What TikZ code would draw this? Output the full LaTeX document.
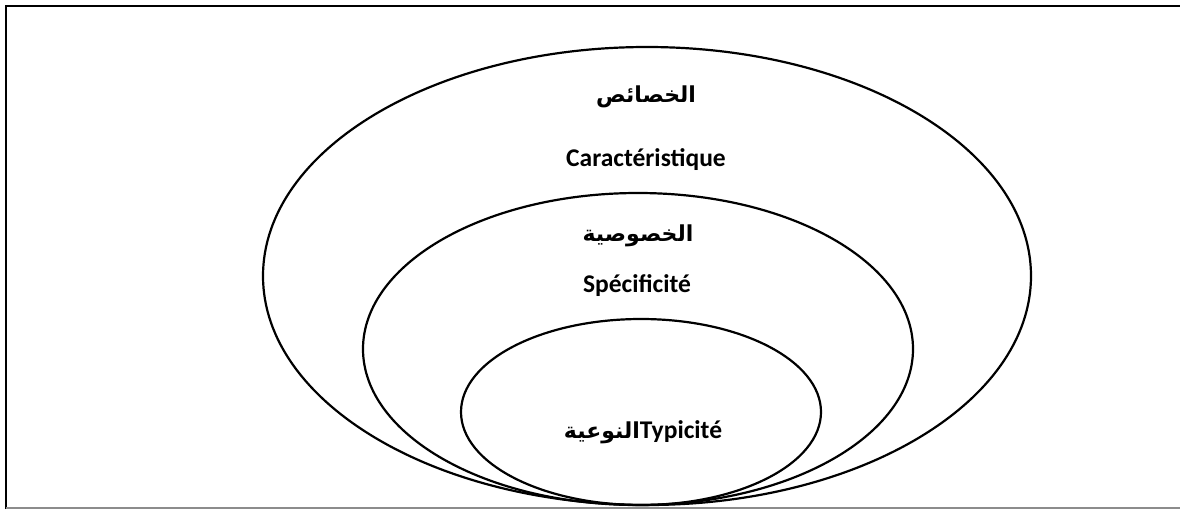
\documentclass[tikz,border=0pt]{standalone}
\usepackage{fontspec}
\setmainfont{Carlito}
\newfontfamily\arabicfont[Script=Arabic]{DejaVu Sans}
\TeXXeTstate=1
\begin{document}
\begin{tikzpicture}[x=1pt,y=-1pt,
  ring/.style={draw=black,line width=2.2pt},
  lbl/.style={font=\fontsize{25.5}{30}\selectfont\bfseries,inner sep=0pt},
  arlbl/.style={font=\arabicfont\fontsize{22}{28}\selectfont\bfseries,inner sep=0pt}]
\useasboundingbox (0,0) rectangle (1180,509);
\draw[line width=2.2pt,black] (6,509) -- (6,6) -- (1180,6);
\draw[line width=1.5pt,black!45] (6,508) -- (1180,508);
\draw[ring] (647,276) ellipse [x radius=384, y radius=229];
\draw[ring] (638,349) ellipse [x radius=275, y radius=156];
\draw[ring] (641,412) ellipse [x radius=180, y radius=93];
\node[arlbl] (a1) at (646,97) {\beginR الخصائص\endR};
\node[lbl] (l1) at (646,160) {Caractéristique};
\node[arlbl] (a2) at (638,236) {\beginR الخصوصية\endR};
\node[lbl] (l2) at (637,286) {Spécificité};
\node[lbl] (l3) at (643,432) {{\arabicfont\fontsize{22}{28}\selectfont\beginR النوعية\endR}Typicité};
\end{tikzpicture}
\end{document}
